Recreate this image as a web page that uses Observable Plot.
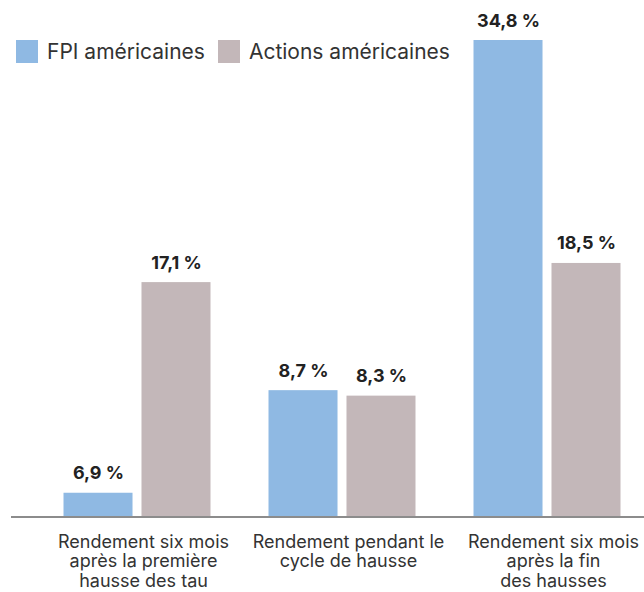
<!DOCTYPE html>
<html>
<head>
<meta charset="utf-8">
<script src="https://cdn.jsdelivr.net/npm/d3@7"></script>
<script src="https://cdn.jsdelivr.net/npm/@observablehq/plot@0.6"></script>
<style>
  html, body { margin: 0; padding: 0; background: #fff; }
  body { width: 644px; height: 592px; overflow: hidden; font-family: Inter, "Noto Sans", sans-serif; }
  #wrap { position: relative; width: 644px; height: 592px; }
  #legend { position: absolute; left: 16px; top: 39px; display: flex; align-items: center; font-size: 21px; color: #333; }
  #legend .sw { width: 22px; height: 23px; margin-right: 9px; }
  #legend .item { display: flex; align-items: center; margin-right: 13px; }
</style>
</head>
<body>
<div id="wrap">
  <div id="chart"></div>
  <div id="legend"></div>
</div>
<script>
const categories = [
  "Rendement six mois\naprès la première\nhausse des tau",
  "Rendement pendant le\ncycle de hausse",
  "Rendement six mois\naprès la fin\ndes hausses"
];
const series = ["FPI américaines", "Actions américaines"];
const colors = ["#8fb9e3", "#c3b7b9"];
// bar heights as drawn in the picture
const fpiValues = [1.7, 9.2, 34.8];
const actionsValues = [17.1, 8.8, 18.5];
// value labels as printed
const fpiLabels = ["6,9 %", "8,7 %", "34,8 %"];
const actionsLabels = ["17,1 %", "8,3 %", "18,5 %"];

const data = [];
categories.forEach((c, i) => {
  data.push({cat: c, series: series[0], value: fpiValues[i], label: fpiLabels[i]});
  data.push({cat: c, series: series[1], value: actionsValues[i], label: actionsLabels[i]});
});

const chart = Plot.plot({
  width: 644,
  height: 592,
  marginTop: 40,
  marginBottom: 76,
  marginLeft: 34.5,
  marginRight: -5.5,
  style: {fontFamily: "Inter, sans-serif", color: "#222", background: "transparent"},
  fx: {domain: categories, padding: 0, round: false, axis: null},
  x: {domain: series, paddingInner: 0.115, paddingOuter: 0.372, round: false, axis: null},
  y: {axis: null},
  color: {domain: series, range: colors},
  marks: [
    Plot.barY(data, {fx: "cat", x: "series", y: "value", fill: "series"}),
    Plot.ruleY([0], {stroke: "#8c8c8c", strokeWidth: 2, dy: 0.5, insetLeft: -23.5}),
    Plot.text(data, {fx: "cat", x: "series", y: "value", text: "label", dy: -14, lineAnchor: "bottom",
      fontSize: 18, fontWeight: "bold", fill: "#222"}),
    Plot.text(categories, {fx: d => d, text: d => d, frameAnchor: "bottom", lineAnchor: "top",
      dy: 17, dx: 6, fontSize: 18, lineHeight: 1.1, fill: "#333"})
  ]
});
document.getElementById("chart").appendChild(chart);

const legend = document.getElementById("legend");
series.forEach((s, i) => {
  const item = document.createElement("div");
  item.className = "item";
  const sw = document.createElement("div");
  sw.className = "sw";
  sw.style.background = colors[i];
  const t = document.createElement("span");
  t.textContent = s;
  item.appendChild(sw);
  item.appendChild(t);
  legend.appendChild(item);
});
</script>
</body>
</html>
